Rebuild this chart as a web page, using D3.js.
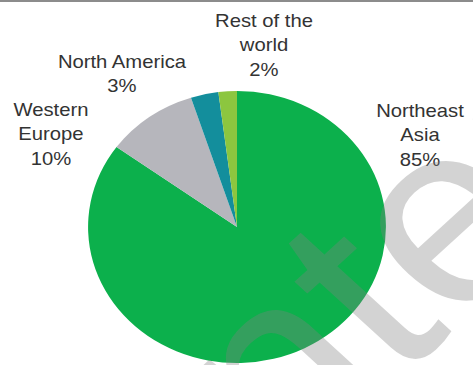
<!DOCTYPE html>
<html>
<head>
<meta charset="utf-8">
<script src="https://cdn.jsdelivr.net/npm/d3@7"></script>
<style>
  html, body { margin: 0; padding: 0; background: #fff; }
  svg { display: block; }
</style>
</head>
<body>
<svg id="chart" width="473" height="365"></svg>
<script>
// Regional share of output, in percent
const regions = ["Northeast Asia", "Western Europe", "North America", "Rest of the world"];
const shares = [85, 10, 3, 2];
const labelLines = [["Northeast", "Asia"], ["Western", "Europe"], ["North America"], ["Rest of the", "world"]];
const colors = ["#0cb04c", "#b6b6bc", "#138e9c", "#8cc63f"];

const W = 473, H = 365;
const sx = 1.095;            // horizontal stretch of the whole drawing
const cx = 237 / sx, cy = 227, R = 136;

const svg = d3.select("#chart");

// thin rule along the top edge
svg.append("rect").attr("x", 0).attr("y", 0).attr("width", W).attr("height", 2).attr("fill", "#8c8c8c");

const g = svg.append("g").attr("transform", `scale(${sx},1)`);

const pie = d3.pie().sort(null).value(d => d).startAngle(0).endAngle(2 * Math.PI);
const arc = d3.arc().innerRadius(0).outerRadius(R);
const arcs = pie(shares);

g.append("g")
  .attr("transform", `translate(${cx},${cy})`)
  .selectAll("path")
  .data(arcs)
  .join("path")
  .attr("d", arc)
  .attr("fill", (d, i) => colors[i]);

// label anchors (centre of the first line baseline)
const labelPos = [[420 / sx, 117], [51 / sx, 116], [122 / sx, 68], [264 / sx, 27]];
const lineH = 24.5;

labelPos.forEach((p, i) => {
  const lines = labelLines[i].concat([shares[i] + "%"]);
  const t = g.append("text")
    .attr("text-anchor", "middle")
    .attr("font-family", "Liberation Sans, Arial, sans-serif")
    .attr("font-size", 18.5)
    .attr("fill", "#333");
  lines.forEach((ln, j) => {
    t.append("tspan").attr("x", p[0]).attr("y", p[1] + j * lineH).text(ln);
  });
});

// faint watermark lettering
g.append("text")
  .attr("transform", `translate(261,484) rotate(-45)`)
  .attr("font-family", "Liberation Sans, Arial, sans-serif")
  .attr("font-size", 260)
  .attr("fill", "#808080")
  .attr("fill-opacity", 0.35)
  .text("nter");
</script>
</body>
</html>
